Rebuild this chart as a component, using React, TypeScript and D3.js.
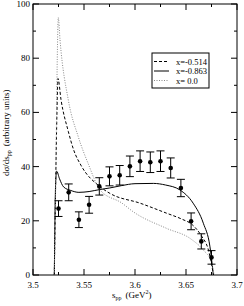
import React from "react";
import * as d3 from "d3";

// data points (s_pp, dsigma/ds, error)
const sValues = [3.525, 3.535, 3.545, 3.555, 3.565, 3.575, 3.585, 3.595, 3.605, 3.615, 3.625, 3.635, 3.645, 3.655, 3.665, 3.675];
const yValues = [24.5, 30.5, 20.4, 25.9, 32.7, 36.4, 36.8, 40.1, 42.0, 41.6, 42.0, 39.5, 32.1, 19.8, 12.4, 6.5];
const yErrors = [2.9, 3.1, 2.9, 3.1, 3.2, 3.5, 3.6, 3.8, 3.8, 3.8, 3.8, 3.7, 3.2, 3.1, 2.8, 2.5];

// x = -0.514 (dashed)
const dashedS = [3.5209, 3.5225, 3.5238, 3.5245, 3.5275, 3.5346, 3.540, 3.547, 3.5657, 3.5755, 3.605, 3.631, 3.646, 3.656, 3.665, 3.672, 3.677];
const dashedY = [0, 40, 65, 72.5, 64.6, 53, 46, 40.5, 32.6, 30.1, 26.5, 22.8, 20.6, 18.6, 14.5, 9.2, 0];

// x = -0.863 (solid)
const solidS = [3.5209, 3.5215, 3.5222, 3.5232, 3.526, 3.530, 3.537, 3.545, 3.555, 3.565, 3.575, 3.587, 3.600, 3.618, 3.630, 3.644, 3.657, 3.667, 3.6735, 3.6768];
const solidY = [0, 20, 34, 38.3, 35.5, 32.5, 31.2, 30.5, 30.8, 31.5, 32.1, 33, 33.7, 33.8, 33.2, 31.4, 26.5, 19.1, 10.4, 0];

// x = 0.0 (dotted)
const dottedS = [3.5209, 3.5228, 3.5238, 3.5248, 3.5265, 3.5346, 3.5444, 3.5542, 3.5657, 3.5873, 3.598, 3.631, 3.654, 3.667, 3.675, 3.6775];
const dottedY = [0, 50, 80, 95, 86.7, 64.6, 51, 41, 31.4, 26.5, 23.4, 17.2, 13.5, 9.2, 4.9, 0];

const xMajor = [3.5, 3.55, 3.6, 3.65, 3.7];
const xMinor = [3.525, 3.575, 3.625, 3.675];
const yMajor = [0, 20, 40, 60, 80, 100];
const yMinor = [10, 30, 50, 70, 90];

const legendLabels = ["x=-0.514", "x=-0.863", "x= 0.0"];

export default function App() {
  const W = 244, H = 306;
  const margin = { left: 33, right: 7, top: 4, bottom: 31 };
  const x = d3.scaleLinear().domain([3.5, 3.7]).range([margin.left, W - margin.right]);
  const y = d3.scaleLinear().domain([0, 100]).range([H - margin.bottom, margin.top]);

  const line = d3.line<[number, number]>()
    .x(d => x(d[0]))
    .y(d => y(d[1]))
    .curve(d3.curveMonotoneX);

  const zip = (a: number[], b: number[]) => a.map((v, i) => [v, b[i]] as [number, number]);

  const styles = [
    { s: dashedS, v: dashedY, stroke: "#000", dash: "3,2" },
    { s: solidS, v: solidY, stroke: "#000", dash: "none" },
    { s: dottedS, v: dottedY, stroke: "#888", dash: "1,1.5" },
  ];

  const x0 = x(3.5), x1 = x(3.7), y0 = y(0), y1 = y(100);
  const font = "'Liberation Serif', 'DejaVu Serif', serif";

  return (
    <svg width={W} height={H} style={{ position: "absolute", left: 0, top: 0 }} fontFamily={font}>
      <rect width={W} height={H} fill="#fff" />
      <clipPath id="plot">
        <rect x={x0} y={y1} width={x1 - x0} height={y0 - y1} />
      </clipPath>
      {/* curves */}
      <g clipPath="url(#plot)">
        {styles.map((st, i) => (
          <path key={i} d={line(zip(st.s, st.v)) || ""} fill="none" stroke={st.stroke}
            strokeWidth={1} strokeDasharray={st.dash} />
        ))}
      </g>
      {/* error bars */}
      {sValues.map((s, i) => {
        const cx = x(s);
        const top = y(yValues[i] + yErrors[i]);
        const bot = y(yValues[i] - yErrors[i]);
        return (
          <g key={i} stroke="#000" strokeWidth={1}>
            <line x1={cx} x2={cx} y1={top} y2={bot} />
            <line x1={cx - 4} x2={cx + 4} y1={top} y2={top} />
            <line x1={cx - 4} x2={cx + 4} y1={bot} y2={bot} />
            <circle cx={cx} cy={y(yValues[i])} r={2.3} fill="#000" stroke="none" />
          </g>
        );
      })}
      {/* frame */}
      <rect x={x0} y={y1} width={x1 - x0} height={y0 - y1} fill="none" stroke="#000" strokeWidth={1} />
      {/* ticks */}
      <g stroke="#000" strokeWidth={1}>
        {xMajor.map(t => (
          <g key={"xM" + t}>
            <line x1={x(t)} x2={x(t)} y1={y0} y2={y0 - 6} />
            <line x1={x(t)} x2={x(t)} y1={y1} y2={y1 + 6} />
          </g>
        ))}
        {xMinor.map(t => (
          <g key={"xm" + t}>
            <line x1={x(t)} x2={x(t)} y1={y0} y2={y0 - 3} />
            <line x1={x(t)} x2={x(t)} y1={y1} y2={y1 + 3} />
          </g>
        ))}
        {yMajor.map(t => (
          <g key={"yM" + t}>
            <line x1={x0} x2={x0 + 6} y1={y(t)} y2={y(t)} />
            <line x1={x1} x2={x1 - 6} y1={y(t)} y2={y(t)} />
          </g>
        ))}
        {yMinor.map(t => (
          <g key={"ym" + t}>
            <line x1={x0} x2={x0 + 3} y1={y(t)} y2={y(t)} />
            <line x1={x1} x2={x1 - 3} y1={y(t)} y2={y(t)} />
          </g>
        ))}
      </g>
      {/* tick labels */}
      {xMajor.map(t => (
        <text key={"xl" + t} x={x(t)} y={y0 + 12.5} fontSize={9} textAnchor="middle">{String(t)}</text>
      ))}
      {yMajor.map(t => (
        <text key={"yl" + t} x={x0 - 3} y={y(t) + 3} fontSize={9} textAnchor="end">{String(t)}</text>
      ))}
      {/* axis labels */}
      <text x={112} y={298} fontSize={9}>
        s<tspan fontSize={6} dy={2}>pp</tspan>
        <tspan dy={-2} dx={4}>(GeV</tspan>
        <tspan fontSize={6} dy={-4}>2</tspan>
        <tspan dy={4}>)</tspan>
      </text>
      <text transform="translate(9,176) rotate(-90)" fontSize={9}>
        dσ/ds<tspan fontSize={6} dy={2}>pp</tspan>
        <tspan dy={-2} dx={4}>(arbitrary units)</tspan>
      </text>
      {/* legend */}
      <rect x={152} y={53} width={57} height={35} fill="#fff" stroke="#000" strokeWidth={1} />
      {legendLabels.map((lab, i) => {
        const ly = 61.5 + i * 9.5;
        return (
          <g key={lab}>
            <line x1={154} x2={169} y1={ly} y2={ly} stroke={styles[i].stroke} strokeWidth={1}
              strokeDasharray={styles[i].dash} />
            <text x={176} y={ly + 3} fontSize={8.5}>{lab}</text>
          </g>
        );
      })}
    </svg>
  );
}
